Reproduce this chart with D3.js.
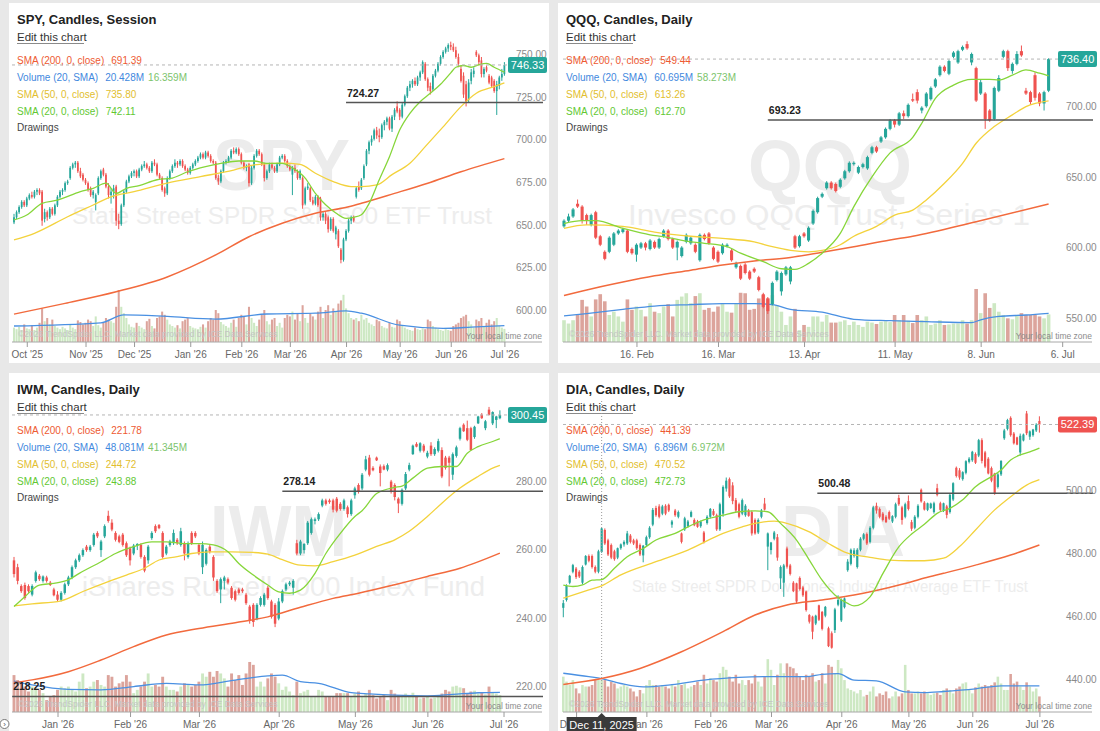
<!DOCTYPE html>
<html lang="en">
<head>
<meta charset="UTF-8">
<title>SPY, QQQ, IWM, DIA - Candles</title>
<script src="https://d3js.org/d3.v7.min.js"></script>
<style>
  body { margin: 0; background: #e8e8e8; font-family: "Liberation Sans", Arial, sans-serif; }
  svg { display: block; font-family: "Liberation Sans", Arial, sans-serif; }
</style>
</head>
<body>
<svg width="1100" height="731"></svg>
<script>
// ---------- data: shared labels ----------
const legendLabels = ["SMA (200, 0, close)", "Volume (20, SMA)", "SMA (50, 0, close)", "SMA (20, 0, close)", "Drawings"];

// ---------- SPY ----------
const spyTitle = "SPY, Candles, Session";
const spyMark = "SPY";
const spyName = "State Street SPDR S&P 500 ETF Trust";
const spyLegend = ["691.39", "20.428M", "16.359M", "735.80", "742.11"];
const spyTicks = ["Oct '25", "Nov '25", "Dec '25", "Jan '26", "Feb '26", "Mar '26", "Apr '26", "May '26", "Jun '26", "Jul '26"];
const spyTickIdx = [5, 28, 47, 69, 89, 108, 130, 151, 171, 192];
const spyYTicks = [600, 625, 650, 675, 700, 725, 750];
const spyLevels = [[724.27, 130]];
// [open, high, low, close]
const spyCandles = [
  [654,659,653,657],[657,661,656,660],[660,664,659,663],[663,667,662,666],[666,667,663,664],[664,669,663,668],[668,671,667,670],[670,672,668,669],[669,673,668,672],[672,674,670,673],
  [673,674,670,671],[672,673,652,655],[656,662,654,660],[660,661,655,657],[657,663,656,662],[662,663,658,659],[659,665,658,664],[664,670,663,669],[669,673,668,672],[672,674,670,673],
  [673,678,672,677],[677,679,676,678],[680,687,679,686],[686,689,685,688],[688,690,686,689],[689,690,683,684],[684,686,680,681],[682,683,678,679],[679,680,676,677],[677,678,672,673],
  [674,675,669,670],[670,673,668,672],[666,671,661,670],[671,681,670,680],[680,685,679,684],[685,686,681,682],[682,683,674,675],[675,677,668,670],[670,674,665,672],[672,676,668,674],
  [675,676,652,655],[655,659,650,653],[653,665,652,664],[664,673,663,672],[672,679,671,678],[678,682,677,681],[681,684,680,683],[683,685,681,684],[684,685,680,681],[681,686,680,685],
  [685,688,684,687],[687,690,686,688],[688,689,685,686],[686,687,683,684],[684,690,683,689],[689,691,687,688],[688,689,681,682],[682,683,679,680],[680,681,672,673],[674,675,669,671],
  [671,681,670,680],[680,685,679,684],[684,688,683,687],[687,691,686,689],[689,690,686,688],[688,691,687,690],[690,691,686,687],[687,688,684,685],[685,686,682,683],[683,687,682,686],
  [686,689,685,688],[688,691,687,690],[690,693,689,692],[692,695,691,694],[694,695,691,692],[692,696,691,695],[695,696,692,693],[693,694,689,690],[690,691,688,689],[689,690,679,680],
  [680,682,676,678],[678,685,677,684],[684,690,683,689],[689,691,688,690],[690,693,689,692],[692,697,691,696],[696,698,694,695],[695,698,694,697],[697,698,693,694],[694,695,688,689],
  [689,690,685,686],[686,688,684,687],[688,689,675,677],[677,687,676,686],[686,694,685,693],[693,697,692,696],[696,697,693,694],[694,695,687,688],[688,689,678,680],[680,685,679,684],
  [684,689,683,688],[688,689,685,686],[686,687,683,684],[684,689,683,688],[688,693,687,692],[692,694,691,693],[693,694,689,690],[690,691,686,687],[687,688,684,685],[682,687,670,686],
  [686,688,683,684],[684,685,679,680],[680,685,679,684],[680,681,662,664],[665,675,664,674],[674,677,673,675],[674,675,666,667],[667,669,664,665],[665,670,664,669],[669,670,663,664],
  [668,669,655,657],[657,660,655,659],[659,660,653,655],[657,658,648,650],[650,657,649,656],[656,657,648,649],[647,652,644,651],[649,650,639,640],[638,639,630,632],[632,645,631,644],
  [644,650,643,649],[649,656,648,655],[655,658,653,657],[657,658,654,655],[669,675,668,674],[675,678,672,673],[674,680,673,679],[680,688,679,687],[688,697,687,696],[696,702,694,701],
  [701,705,699,703],[703,709,702,708],[708,710,703,705],[705,709,701,704],[704,712,703,711],[711,714,708,713],[713,716,711,715],[715,716,708,709],[709,717,707,716],[716,721,714,720],
  [722,725,718,719],[720,721,714,716],[716,724,715,723],[723,729,722,728],[728,734,727,733],[733,737,731,735],[735,738,733,737],[737,739,734,735],[735,740,734,739],[739,743,737,742],
  [742,749,741,748],[747,748,737,738],[738,739,731,733],[734,736,729,731],[732,741,731,740],[740,744,739,743],[743,748,742,747],[747,752,746,751],[751,755,750,754],[754,757,753,756],
  [756,759,754,758],[758,760,755,757],[757,759,754,755],[755,757,750,751],[751,753,745,747],[744,746,736,737],[740,742,727,729],[735,737,722,725],[726,738,724,736],[737,744,735,742],
  [741,745,739,743],[754,755,751,752],[752,753,746,748],[749,751,739,741],[741,745,739,744],[745,746,742,743],[740,741,735,736],[739,740,733,734],[737,738,730,731],[731,737,717,735],
  [734,740,732,739],[739,744,737,741],[741,748,740,746.33]
];
// volume, millions
const spyVolume = [
  18,16,19,15,22,17,16,21,15,18,24, 42, 26,30,22,28,20,18,16,19,17,
  15,22,18,16,27,25,22,24,28,26, 20,32,21,18,24,30,28,26,24,44,65,
  44,36,30,22,19,18,24,20,18, 16,26,29,20,17,30,32,38,34,28,
  22,20,18,21,17,26,28,30,20,18, 17,16,19,22,18,26,30,28,40,36,
  25,22,20,18,24,28,19,30,34,32, 22,44,30,24,20,28,34,40,26,22,
  28,30,20,24,18,30,34,32,38,28, 36,26,46,30,24,36,32,28,38,44,
  30,40,46,34,42,38,48,52,59,42,36,30,28,
  30,26,34,28,30,24,22,20,28,26,20,18,17,24,19,18,28,
  26,20,18,16,15,14,18,16,15,17,16,28,26,20,18,16,15,14,16,15,
  14,20,22,24,30,32,34,26,22,18,28,26,30,20,24,28,22,26,30,20,18,16.4
];
// [candle index, value]
const spySma20 = [[0,655.4],[5,658.3],[11,665.2],[17,667],[26,672],[31,674],[36,677],[40,671],[44,674],[49,675.6],[56,679],[62,680],[68,683.7],[75,686.7],[81,688.6],[88,690],[94,690],[99,688.6],[105,688.6],[109,686],[114,680],[118,671],[122,664.3],[126,659.5],[130,656.4],[133,657],[136,658.5],[139,665],[143,679],[147,692.5],[151,708.2],[155,718],[159,724.8],[163,729.7],[167,735],[171,741.7],[173,745],[176,746],[179,745],[182,746.5],[185,747.3],[188,745],[192,742.1]];
const spySma50 = [[0,643.7],[8,647.6],[21,657.3],[31,664.2],[38,669],[47,672],[60,677],[73,680.8],[86,684.7],[94,687.7],[105,688.7],[112,688],[118,682.8],[125,677.9],[132,675],[136,675],[142,676],[148,682],[155,688.7],[161,698.4],[168,710],[175,721.9],[181,729.7],[188,733.6],[192,735.8]];
const spySma200 = [[0,600.2],[20,606.5],[40,613.3],[60,622],[79,634.9],[92,645.6],[105,653.5],[118,659.3],[131,663.2],[136,665.2],[149,671],[162,677],[175,683.7],[192,691.4]];
const spyVolSma = [[0,20],[34,24],[43,34],[60,32],[79,28.7],[99,35],[118,36],[130,39],[136,36],[151,21],[168,17],[181,19],[192,20.4]];

// ---------- QQQ ----------
const qqqTitle = "QQQ, Candles, Daily";
const qqqMark = "QQQ";
const qqqName = "Invesco QQQ Trust, Series 1";
const qqqLegend = ["549.44", "60.695M", "58.273M", "613.26", "612.70"];
const qqqTicks = ["16. Feb", "16. Mar", "13. Apr", "11. May", "8. Jun", "6. Jul"];
const qqqTickIdx = [16, 34, 53, 73, 92, 110];
const qqqYTicks = [550, 600, 650, 700];
const qqqLevels = [[693.23, 45]];
const qqqCandles = [
  [618,623,617,622],[622,627,621,625],[625,631,624,630],[634,637,631,632],[632,633,620,622],[626,627,619,622],[619,627,618,626],[628,629,609,610],[611,612,604,605],[600,601,594,595],
  [600,611,599,610],[605,614,604,613],[613,616,612,615],[614,617,613,616],[615,616,599,600],[602,603,598,599],[598,606,593,605],[603,607,602,606],[606,607,601,603],[602,609,601,608],
  [607,608,602,603],[603,610,602,609],[611,616,610,615],[615,616,608,609],[609,610,602,603],[603,608,594,607],[597,604,596,603],[607,613,606,612],[606,611,605,610],[605,606,599,600],
  [594,613,593,612],[612,613,608,609],[613,614,605,606],[603,604,594,595],[600,601,592,593],[599,606,598,605],[604,606,603,605],[601,602,593,594],[589,593,588,592],[590,591,580,581],
  [591,592,584,585],[586,587,580,581],[588,589,585,586],[582,583,572,573],[570,571,560,561],[567,568,556,558],[563,579,562,578],[580,587,579,586],[572,586,569,585],[584,590,583,589],
  [579,590,577,589],[611,612,602,603],[604,612,603,611],[613,614,610,611],[608,618,607,617],[620,630,619,629],[628,639,627,638],[639,642,638,641],[645,650,644,649],[649,650,644,645],
  [648,649,642,643],[646,652,645,651],[652,658,651,657],[657,664,656,663],[662,664,661,663],[656,661,655,660],[660,663,659,662],[659,668,658,667],[670,675,669,674],[674,675,670,671],
  [678,682,677,681],[681,688,680,687],[687,694,686,693],[693,694,688,690],[690,699,689,698],[698,700,694,696],[696,705,695,704],[708,712,706,707],[713,715,705,707],[700,703,698,702],
  [703,713,702,712],[708,717,707,716],[717,723,716,722],[725,732,724,731],[731,732,727,728],[726,736,725,735],[738,742,737,741],[734,743,733,742],[743,746,742,745],[747,749,743,744],
  [734,741,732,740],[730,731,706,707],[712,722,711,720],[712,713,687,694],[700,701,692,693],[694,717,693,716],[714,725,713,723],[738,743,737,742],[742,743,728,730],[728,734,726,733],
  [733,742,732,740],[742,746,738,739],[714,716,711,712],[713,714,704,706],[725,727,707,709],[712,713,703,705],[705,714,700,713],[714,737,713,736.4]
];
const qqqVolume = [
  46,39,46,57,89,75,54,90,101,86, 57,64,54,43,90,68,75,68,54,82,
  64,61,75,80,54,89,96,103,82,97, 103,68,72,64,75,82,64,62,82,104,
  103,68,70,92,99,92,99,78,64,36, 54,70,25,36,32,54,54,43,57,41,
  41,43,46,36,43,36,32,43,41,38, 43,44,42,57,46,57,45,40,57,46,
  54,36,39,46,36,37,39,39,46,39, 46,112,61,103,72,82,64,57,50,48,
  55,61,57,57,57,54,50,58.3
];
const qqqSma20 = [[0,620],[4,622],[7,622],[13,616.6],[19,612],[22,610.7],[28,607],[31,606],[36,603.6],[39,599],[44,593],[48,588],[51,587.5],[54,591.8],[57,599],[61,613],[64,632],[68,653],[72,670],[77,681],[79,691],[82,708.6],[86,718],[90,722],[94,722],[96,721.6],[99,725],[102,728.7],[105,726.4],[107,724.5]];
const qqqSma50 = [[0,616.6],[5,619],[13,618],[20,614],[28,611],[35,609.5],[42,607],[46,603.6],[50,601],[54,600],[57,601],[61,605],[64,611],[69,618],[73,626],[77,629.5],[80,636.7],[84,648.5],[88,662.6],[91,676.8],[95,688.6],[99,696.9],[102,702.8],[107,706.8]];
const qqqSma200 = [[0,569],[5,573],[13,578.6],[20,583],[28,587],[35,590.6],[42,593.5],[50,596],[57,599.7],[64,603.6],[72,608.4],[77,611],[91,621.3],[107,633.8]];
const qqqVolSma = [[0,55],[5,60],[13,69],[20,76],[28,79],[35,81],[42,81],[46,79],[50,69],[57,63],[64,48],[72,45],[80,43],[90,41],[92,47],[96,54],[102,57],[107,60.7]];

// ---------- IWM ----------
const iwmTitle = "IWM, Candles, Daily";
const iwmMark = "IWM";
const iwmName = "iShares Russell 2000 Index Fund";
const iwmLegend = ["221.78", "48.081M", "41.345M", "244.72", "243.88"];
const iwmTicks = ["Jan '26", "Feb '26", "Mar '26", "Apr '26", "May '26", "Jun '26", "Jul '26"];
const iwmTickIdx = [12, 32, 51, 73, 94, 114, 135];
const iwmYTicks = [220, 240, 260, 280];
const iwmLevels = [[278.14, 74], [218.25, -0.5]];
const iwmCandles = [
  [258,259,253,254],[256,257,251,252],[250.5,251,248.5,249],[250.8,251.5,246.5,247],[250.5,251,248.5,249],[248,251,247.5,250.5],[252,255,251.5,254.5],[253.5,254,252,252.5],[252,253.6,251.5,253.3],[253,253.5,251.5,252],
  [251.5,252,250.5,250.8],[249.5,250,247.5,247.8],[248,249,246,246.5],[246.5,249,246,248.5],[248.5,251.5,248,251],[251,253.5,250.5,253],[253,256.5,252.5,256],[256,258.5,255.5,258],[258,260,257.5,259.5],[259.5,261.5,259,261],
  [262,262.5,260.5,261],[261,262.5,260.5,262],[262.5,266,262,265.5],[266,266.5,264.5,265],[261,264,259,263.5],[265,268.5,264.5,268],[271,272.5,269,269.5],[269,270,266.5,267],[266,266.5,263.5,264],[265,265.5,263,263.4],
  [265.5,266,262,262.5],[263,263.5,259,259.5],[261.5,262,256.5,258],[260,262.8,259.5,262.3],[262.3,263,261,262.8],[262.5,263,258.5,259],[259,259.5,254.5,255],[258,262.5,257,262],[264.5,266.5,264,266],[268,268.5,266,266.5],
  [268.3,268.6,267.1,267.4],[266,266.5,258.5,259],[260,262.5,259.5,262],[262.5,264,262,263.5],[263,267,262.5,266],[264,264.5,262.5,263],[262.5,267.5,262,266.5],[263,263.5,258,260],[259,263.5,258.5,263],[266,266.5,262.5,263],
  [266,266.5,264.5,265],[262.5,263,259.5,260],[256,263.5,254,262.5],[257,261.5,256.5,261],[262,262.5,260,260.5],[259,259.5,252,253],[252,252.5,248.5,249],[249.5,253,245.5,252.5],[252,253.5,249.5,253],[252.5,253,251,251.5],
  [250,250.5,246.5,247],[249,249.5,246,246.5],[249.5,250,248,248.5],[249.5,250,248.5,249],[248,248.5,245,245.5],[244.5,245,239.5,240.5],[245,245.5,238.6,240],[241,245.5,240.5,245],[245,247.5,244.5,247],[245,248.5,244.5,248],
  [250,250.5,246.5,247],[246,246.5,241,241.5],[245,245.5,238.5,239.5],[241,247,240.5,246],[246,249.5,245.5,249],[249.5,251.5,249,251],[251,252,250.5,251.5],[250,252.5,248,252],[263,264,259.5,260],[260,264,259.5,263.5],
  [261,263,260,262.8],[263,269.5,262.5,269],[266,270.5,265.5,270],[269.5,270.5,268.5,270],[270,272,269.5,271.5],[274,276,273.5,275.5],[275.5,276,274,274.5],[275.5,276,274.5,275],[275.5,276,272,272.8],[276,276.5,272,272.5],
  [274.5,275,272.5,273],[273,276,272.5,275.5],[273.5,274,270.5,271.5],[271.5,276,271,275.5],[277,279.5,276,279],[280,280.5,277.5,278],[279,283.5,278.5,283],[284.5,288.5,284,287.5],[288,288.8,282.5,283],[285,285.5,284,284.3],
  [288,288.3,287,287.2],[285.4,286,279.6,283.5],[285.5,286,284.3,284.5],[284.5,286.3,284,285.8],[281,281.5,277.5,278],[280,280.5,275.5,276.5],[276,276.4,271.8,274.6],[274.5,279,274,278.6],[279,283.8,278.5,283.2],[284.5,286.5,284,285.8],
  [289,291.8,288.8,291.5],[292,292.5,291,291.2],[290,292.5,289.5,292.2],[291.5,292,289.5,290],[288.3,290,287.8,289.4],[291.5,292.5,288.5,289],[289,291,288.5,290.5],[290,293.5,289.5,292.8],[290.2,291,282,282.5],[288,288.5,284.5,285],
  [288,288.5,279.6,286.5],[283,289.5,281.5,289],[288.5,291.5,288,291],[293.5,297,293,296.6],[297.6,298,295.5,295.7],[296.6,298.8,292.8,293.2],[296.6,297,290,290.2],[294,297.3,293.5,297],[298,300.2,297.8,300],[300.5,301,299.3,299.5],
  [296.6,299,296,298.6],[302,302.8,300.3,300.5],[298,301.5,297.5,301.3],[299,300.2,296.6,300],[299.5,301.8,299.2,300.45]
];
const iwmVolume = [
  90,78,74,62,50,62, 58,54,46,29,37,41,54, 62,58,62,54,50,74,94,58,
  62,74,78,66,62,90,86,62,70,74, 90,74,46,54,62,74,94,62,66,62,
  86,62,54,54,50,62,70,66,62,66, 74,94,86,98,86,100,94,82,62,94,
  78,90,66,94,122,115,62,74,62,82, 94,86,70,54,62,50,41,74,46,50,
  54,37,37,54,50,37,37,37,46,46,46,46,37,
  45,50,37,45,54,41,33,37,41,29, 54,45,41,37,45,41,47,37,33,35,
  37,33,35,39,45,54,50,62,64,60, 58,45,50,52,45,47,43,62,47,45,41.3
];
const iwmSma20 = [[0,244.5],[3,247.4],[7,250.8],[11,251.3],[15,252.3],[18,254.2],[24,257.6],[28,260],[33,262],[38,263.4],[42,263.4],[47,262.9],[51,262.9],[55,262.5],[59,260.5],[62,257.1],[66,253.7],[70,250.8],[73,248.8],[76,248.4],[79,249.3],[83,254.2],[86,260],[90,265.9],[94,270.8],[96,272.5],[100,277.5],[105,279.3],[107,279.7],[110,282],[114,284.9],[118,285.4],[122,285.4],[125,289.3],[128,291.2],[132,292.7],[134,293.5]];
const iwmSma50 = [[0,244.7],[5,245.3],[13,246.2],[19,248.9],[26,251.8],[31,253.7],[36,255.7],[40,258.1],[45,259.1],[49,260],[54,260.5],[60,260.5],[66,260.3],[70,259.8],[74,258.2],[79,256.6],[83,256.4],[88,257.6],[94,259.5],[96,260.3],[100,262.1],[105,264],[109,266.5],[114,270.8],[118,274.7],[123,279.1],[128,282.5],[132,284.9],[134,285.7]];
const iwmSma200 = [[0,222.3],[5,223.1],[15,225.5],[24,228.9],[33,232.8],[42,236.2],[51,238.1],[61,239.8],[70,241.5],[79,244.3],[88,246.9],[95,248.4],[105,250.9],[114,253.3],[123,255.7],[134,260.1]];
const iwmVolSma = [[0,75.6],[5,66],[15,55],[24,54],[33,62],[42,70],[51,66],[61,78],[70,88],[74,89.7],[79,74],[84,70],[93,47],[98,44],[105,41],[114,39.5],[121,43],[128,47],[134,48.1]];

// ---------- DIA ----------
const diaTitle = "DIA, Candles, Daily";
const diaMark = "DIA";
const diaName = "State Street SPDR Dow Jones Industrial Average ETF Trust";
const diaLegend = ["441.39", "6.896M", "6.972M", "470.52", "472.73"];
const diaTicks = ["Dec '25", "Jan '26", "Feb '26", "Mar '26", "Apr '26", "May '26", "Jun '26", "Jul '26"];
const diaTickIdx = [4, 26, 46, 65, 87, 108, 128, 149];
const diaYTicks = [440, 460, 480, 500];
const diaLevels = [[500.48, 79.5]];
const diaCrosshair = [12, "Dec 11, 2025"];
const diaCandles = [
  [464,466.5,461,465.5],[466.5,471.5,466,471],[472,474.5,471.5,474.2],[475.5,478,475,477.6],[476.5,477,473.2,473.8],[475.5,476,473.5,474],[472,477.5,471.5,477],[477.8,480.8,477.5,480.5],[480.5,481,478.5,479],[480.5,481,476.5,477],
  [477,477.5,475,475.5],[475.5,482.5,475,482],[481.8,489.5,481.5,489.3],[488.8,489.3,484,484.5],[485.5,486,480.5,481],[484,484.5,479.5,480],[482,482.5,479,479.5],[480,483.2,479.5,483],[483,484.5,482.5,484.2],[484.2,485.5,483.5,485],
  [484.5,488.5,484,487.7],[487,487.5,484.5,485],[485.5,486,484,484.5],[485.5,486,482.5,483],[484,484.5,480.5,481],[480.7,484,478.5,483.8],[484,487,483.5,486.5],[486.5,490,486,489.5],[490.5,495.8,490,495.2],[495.8,496.5,493,493.5],
  [496.3,497,492.5,493],[494,496.8,493.5,496.3],[496.5,497,493.5,494],[496.8,497.2,494.5,495],[490.5,492,489.5,491.5],[495,495.5,493,493.5],[493,495,492.5,494.5],[487.7,488,484.5,485],[489,493,488.5,492.5],[490,492,489.5,491.5],
  [493,495,492.8,494.5],[492,492.5,490,490.3],[491.5,492,489.5,489.8],[490,491.8,489.5,491.5],[488,488.5,484.5,485],[491,493.5,490.5,493],[493,495.8,492.5,495.5],[494.8,495.5,493.3,493.6],[493.5,494,488.5,489],[489,497.5,488.5,497],
  [494,503,493,502.5],[502,505.5,501,504.5],[505,505.5,499,499.5],[503,504,497,498],[498.3,499,494.5,495],[497,497.5,492.5,493],[494,498.8,493.5,498.3],[493.5,497,493,496.5],[495,495.5,493,493.3],[494.5,495,487,487.7],
  [492,492.5,487.3,487.7],[488,492.5,487.5,492],[493,495.5,492.5,495],[497.2,499,495,495.3],[483.5,488,476,487.7],[482.4,485,481,484.8],[486,488.5,485.5,488],[486.5,487.5,479,480],[473.4,477.5,470,477],[472,478,467.5,477.5],
  [482.9,483.5,476.5,477.1],[477.5,478,474.3,474.8],[472,472.5,469,469.3],[471.8,472,465.5,466],[473.5,474,469.5,470],[470.5,471,467.5,468],[469.2,469.5,462.8,463.3],[461.7,462,459,459.6],[461.2,461.5,454,456.4],[459,461.8,458.5,461.5],
  [464.8,465,459.8,460.2],[462.7,463,456.8,457.3],[461.5,464.6,461,464.3],[457.5,458,451.5,451.8],[455.9,456.5,451,451.3],[456.9,464,456,463.5],[465,468,464.5,466.5],[460,467,459.5,466.5],[464.2,467.3,463.8,467],[476,479.5,475.5,478.7],
  [478,482.9,477.5,482.5],[480.5,483,480,482.3],[477,483,476.5,482.5],[482.5,486.5,482,486],[486,487.8,485.5,487.4],[487.5,488,484,484.5],[485,490,484.5,489.5],[489.5,496.5,489,496],[496.5,497.5,494,495],[495.5,496,492.5,493],
  [494,494.5,491.5,492],[493,493.5,491,491.3],[494.5,495,492,492.4],[491.5,493.5,491,493.2],[493,497.5,492.5,497],[499,500,496.5,497],[496,496.5,490.5,492],[493,497.5,492.5,497],[498,499.8,495,495.5],[491.3,492,488.5,489.2],
  [489.5,493.5,489,493],[493,497,492.5,496.5],[501.6,502,497.5,497.9],[497.5,498,495,495.3],[495.2,497.5,494.8,497.3],[495.8,497.5,495.5,497.2],[494.5,497.8,494,497.3],[502.1,503.5,499.5,500],[497.3,497.8,494.8,495.2],[495,497.5,494.5,497.3],
  [496.3,496.8,492.5,493.6],[494.5,500.5,494,500],[498.5,504,498,503.7],[508.6,509,505.5,506],[507.8,508.5,504.8,505.5],[505,507.5,504.5,507.2],[507,511,506.5,510.7],[510.5,512,510,511.5],[511,514,510.5,513.7],[513,513.5,509.8,510.2],
  [512.5,517.8,512,517.4],[517.4,518,510,510.8],[513.5,514,508.5,509],[511.5,512,506.5,506.8],[508.5,509,504,504.5],[506.8,507,500,500.5],[502.5,507,502,506.5],[506.5,511,506,510.8],[518,521,517.5,520.5],[521,524.2,520.5,523.8],
  [524.5,525,518.5,519],[519.5,520,516,516.4],[518.3,518.5,515.8,516],[513.5,519.5,512.5,518.8],[517.3,519.5,517,519.2],[525.9,526.7,519,519.6],[518.5,520.5,517.5,520.2],[519,521,518.5,520.8],[520.5,522.8,520,522.3],[523.5,525,519.8,522.39]
];
const diaVolume = [
  9.3,8.0,7.1,8.4,6.2,4.9,7.1,6.7,6.7,7.1,8.4, 8.4,8.4,8.4,6.7,8.0,7.5,6.2,6.7,7.1,6.7,
  6.2,5.4,4.1,5.8,4.9,7.1,8.4,7.1,7.1,6.7, 7.1,6.7,6.2,7.1,6.7,8.4,7.1,7.5,6.2,6.7,
  7.1,8.0,7.1,9.8,7.5,8.9,8.4,8.0,10.2,11.9, 11.1,9.3,8.0,9.8,7.5,8.4,7.1,8.4,7.5,9.8,
  8.0,6.7,9.3,13.9,11.1,7.1,9.8,12.8,10.2,12.8, 11.9,11.5,10.2,9.3,8.4,9.8,9.3,10.2,8.0,8.4,
  10.2,7.5,12.4,11.9,10.2,13.7,11.5,8.4,6.2,5.8, 5.4,4.9,5.8,4.1,4.5,5.4,6.7,4.1,4.9,4.5,
  5.4,3.6,4.1,5.4,4.1,4.9,12.4,5.8,4.9,4.9,5.4,4.9,5.4,
  4.9,4.5,4.9,5.1,4.5,5.8,6.2,5.8,4.9,6.2,6.7,7.5,7.8,5.8,4.9,6.5,7.5,6.7,
  7.1,6.7,7.1,7.8,9.3,7.5,5.8,5.8,10.0,7.5,8.0,6.7,5.8,7.8,6.7,5.4,6.2,4.1
];
const diaSma20 = [[0,471.2],[3,470.8],[6,471.3],[9,472.8],[12,473],[16,476.6],[20,480.3],[25,482.9],[29,485.6],[35,487.7],[39,489.8],[44,492],[50,493.5],[55,494.6],[60,494.9],[64,494.6],[68,490.9],[73,485.6],[77,479.2],[81,472.8],[85,468.1],[89,465.4],[91,464.6],[96,467.5],[100,474.9],[105,483.4],[109,487.5],[113,490.6],[117,494.1],[121,495.7],[125,498.4],[129,502.6],[134,505.8],[137,507.9],[140,511.1],[143,512.7],[146,513.7],[149,514.9]];
const diaSma50 = [[0,467.1],[8,469.7],[12,471],[18,474.5],[29,478.7],[39,482.4],[50,487.7],[56,489.8],[60,490.9],[66,491.6],[70,490.9],[77,488.2],[83,484.5],[89,481.4],[96,480.1],[102,479.2],[108,479],[113,479],[119,479.8],[124,483.5],[129,488.8],[135,495.2],[140,499.4],[145,503.1],[149,504.8]];
const diaSma200 = [[0,439.6],[12,441.5],[24,444.7],[37,450],[50,456.4],[60,461.7],[70,464.9],[81,466.5],[91,468.1],[102,470.5],[109,472.3],[113,473.5],[119,475],[129,477.6],[140,480.8],[149,484]];
const diaVolSma = [[0,10.2],[8,9.3],[12,8.8],[18,7.5],[25,6.6],[34,7.2],[44,8.4],[55,9.1],[65,9.3],[76,9.3],[81,9.9],[86,10.1],[91,8.4],[98,8.2],[107,5.3],[113,5.1],[119,5.4],[129,6.1],[137,6.9],[149,6.9]];

// ---------- layout ----------
const GREEN = "#26a69a", RED = "#ef5350";
const svg = d3.select("svg");
svg.append("rect").attr("width", 1100).attr("height", 731).attr("fill", "#e8e8e8");

const panels = [
  { title: spyTitle, legend: spyLegend, candles: spyCandles, volume: spyVolume, sma20: spySma20, sma50: spySma50, sma200: spySma200, volSma: spyVolSma,
    ticks: spyTicks, tickIdx: spyTickIdx, yTicks: spyYTicks, levels: spyLevels, mark: spyMark, name: spyName,
    box: [9, 3, 540, 360], dy: 0, left: 12, right: 542, xFirst: 14, xLast: 504.4,
    yDomain: [600, 750], yRange: [314.45, 58.7], volMax: 60, volTop: 294, axisY: 342,
    markX: 281.5, markY: 190, markLen: 137, nameY: 224, nameSize: 23, nameLen: 420, nameX: 282 },
  { title: qqqTitle, legend: qqqLegend, candles: qqqCandles, volume: qqqVolume, sma20: qqqSma20, sma50: qqqSma50, sma200: qqqSma200, volSma: qqqVolSma,
    ticks: qqqTicks, tickIdx: qqqTickIdx, yTicks: qqqYTicks, levels: qqqLevels, mark: qqqMark, name: qqqName,
    box: [558, 3, 542, 360], dy: 0, left: 563, right: 1092, xFirst: 564, xLast: 1048.6,
    yDomain: [550, 700], yRange: [322.45, 110.5], volMax: 120, volTop: 285.2, axisY: 342,
    markX: 830, markY: 191, markLen: 164, nameY: 225, nameSize: 29, nameLen: 402, nameX: 829 },
  { title: iwmTitle, legend: iwmLegend, candles: iwmCandles, volume: iwmVolume, sma20: iwmSma20, sma50: iwmSma50, sma200: iwmSma200, volSma: iwmVolSma,
    ticks: iwmTicks, tickIdx: iwmTickIdx, yTicks: iwmYTicks, levels: iwmLevels, mark: iwmMark, name: iwmName,
    box: [9, 373, 540, 358], dy: 370, left: 12, right: 542, xFirst: 14, xLast: 499.9,
    yDomain: [220, 280], yRange: [690.5, 485], volMax: 130, volTop: 658.7, axisY: 712,
    markX: 278.5, markY: 556, markLen: 137, nameY: 596, nameSize: 28, nameLen: 403, nameX: 283.5 },
  { title: diaTitle, legend: diaLegend, candles: diaCandles, volume: diaVolume, sma20: diaSma20, sma50: diaSma50, sma200: diaSma200, volSma: diaVolSma,
    ticks: diaTicks, tickIdx: diaTickIdx, yTicks: diaYTicks, levels: diaLevels, mark: diaMark, name: diaName,
    box: [558, 373, 542, 358], dy: 370, left: 563, right: 1092, xFirst: 563.3, xLast: 1039.4,
    yDomain: [440, 500], yRange: [683.2, 494.8], volMax: 14, volTop: 658.8, axisY: 712,
    markX: 843, markY: 556, markLen: 124, nameY: 592, nameSize: 17, nameLen: 396, nameX: 830, crosshair: diaCrosshair }
];

panels.forEach(drawPanel);

function drawPanel(p) {
  const [bx, by, bw, bh] = p.box;
  const g = svg.append("g");
  g.append("rect").attr("x", bx).attr("y", by).attr("width", bw).attr("height", bh).attr("fill", "#fff");

  const n = p.candles.length;
  const x = d3.scaleLinear().domain([0, n - 1]).range([p.xFirst, p.xLast]);
  const step = x(1) - x(0);
  const y = d3.scaleLinear().domain(p.yDomain).range(p.yRange);
  const v = d3.scaleLinear().domain([0, p.volMax]).range([p.axisY, p.volTop]);
  const up = d => d[3] >= d[0];

  // watermark
  g.append("text").attr("x", p.markX - p.markLen / 2).attr("y", p.markY)
    .attr("font-size", 72).attr("font-weight", "bold").attr("fill", "#ececec")
    .attr("textLength", p.markLen).attr("lengthAdjust", "spacingAndGlyphs").text(p.mark);
  g.append("text").attr("x", p.nameX - p.nameLen / 2).attr("y", p.nameY)
    .attr("font-size", p.nameSize).attr("fill", "#ededed")
    .attr("textLength", p.nameLen).attr("lengthAdjust", "spacingAndGlyphs").text(p.name);

  // volume
  const barW = Math.max(1.2, step * 0.8);
  g.append("g").selectAll("rect").data(p.volume).join("rect")
    .attr("x", (d, i) => x(i) - barW / 2).attr("width", barW)
    .attr("y", d => v(d)).attr("height", d => p.axisY - v(d))
    .attr("fill", (d, i) => up(p.candles[i]) ? "#cde8c3" : "#dca49c");

  const vline = d3.line().x(d => x(d[0])).y(d => v(d[1])).curve(d3.curveMonotoneX);
  g.append("path").attr("d", vline(p.volSma)).attr("fill", "none").attr("stroke", "#4a90e2").attr("stroke-width", 1.3);

  // copyright & time zone
  g.append("text").attr("x", p.left + 6).attr("y", p.axisY - 5).attr("font-size", 8.5).attr("fill", "#c4c4c4")
    .text("\u00a92026 TrendSpider LLC. Market data provided by ICE Data Services");
  g.append("text").attr("x", p.right).attr("y", p.axisY - 3).attr("text-anchor", "end").attr("font-size", 8.5).attr("fill", "#8c8c8c")
    .text("Your local time zone");

  // candles
  const bodyW = Math.max(1.5, step * 0.68);
  const cg = g.append("g").selectAll("g").data(p.candles).join("g");
  cg.append("line").attr("x1", (d, i) => x(i)).attr("x2", (d, i) => x(i))
    .attr("y1", d => y(d[1])).attr("y2", d => y(d[2]))
    .attr("stroke", d => up(d) ? GREEN : RED).attr("stroke-width", 1);
  cg.append("rect").attr("x", (d, i) => x(i) - bodyW / 2).attr("width", bodyW)
    .attr("y", d => y(Math.max(d[0], d[3])))
    .attr("height", d => Math.max(1, Math.abs(y(d[0]) - y(d[3]))))
    .attr("fill", d => up(d) ? GREEN : RED);

  // moving averages
  const line = d3.line().x(d => x(d[0])).y(d => y(d[1])).curve(d3.curveMonotoneX);
  [[p.sma200, "#f26a3d", 1.5], [p.sma50, "#f3d23c", 1.3], [p.sma20, "#86d63a", 1.3]].forEach(([s, c, w]) => {
    g.append("path").attr("d", line(s)).attr("fill", "none").attr("stroke", c).attr("stroke-width", w);
  });

  // horizontal drawings
  p.levels.forEach(([lv, from]) => {
    const ly = y(lv);
    g.append("line").attr("x1", x(from)).attr("x2", p.right + 1).attr("y1", ly).attr("y2", ly)
      .attr("stroke", "#555").attr("stroke-width", 1.5);
    g.append("text").attr("x", x(from) + 1).attr("y", ly - 6).attr("font-size", 10.5).attr("font-weight", "bold")
      .attr("fill", "#222").text(d3.format(".2f")(lv));
  });

  // y axis labels
  const ya = g.append("g").attr("transform", `translate(${p.right - 26},0)`)
    .call(d3.axisRight(y).tickValues(p.yTicks).tickFormat(d3.format(".2f")).tickSize(0).tickPadding(0));
  ya.select(".domain").remove();
  ya.selectAll("text").attr("fill", "#8a8a8a").attr("font-size", 10).attr("dy", "-0.1em")
    .attr("font-family", "Liberation Sans, Arial, sans-serif");

  // x axis
  g.append("line").attr("x1", p.left).attr("x2", p.right).attr("y1", p.axisY).attr("y2", p.axisY)
    .attr("stroke", "#a8a8a8");
  const xa = g.append("g").attr("transform", `translate(0,${p.axisY})`)
    .call(d3.axisBottom(x).tickValues(p.tickIdx).tickFormat((d, i) => p.ticks[i]).tickSize(5).tickPadding(4));
  xa.select(".domain").remove();
  xa.selectAll("line").attr("stroke", "#9a9a9a");
  xa.selectAll("text").attr("fill", "#666").attr("font-size", 10).attr("font-family", "Liberation Sans, Arial, sans-serif");

  // last price line and label
  const last = p.candles[n - 1];
  const py = y(last[3]);
  g.append("line").attr("x1", p.left).attr("x2", p.right - 34).attr("y1", py).attr("y2", py)
    .attr("stroke", "#b5b5b5").attr("stroke-dasharray", "3,3");
  g.append("rect").attr("x", p.right - 34).attr("y", py - 8).attr("width", 39).attr("height", 16).attr("rx", 2)
    .attr("fill", up(last) ? GREEN : RED);
  g.append("text").attr("x", p.right - 14.5).attr("y", py + 4).attr("text-anchor", "middle")
    .attr("font-size", 11).attr("fill", "#fff").text(d3.format(".2f")(last[3]));

  // header and legend
  const tx = bx + 8, t0 = p.dy;
  g.append("text").attr("x", tx).attr("y", 24 + t0).attr("font-size", 13).attr("font-weight", "bold")
    .attr("fill", "#222").text(p.title);
  g.append("text").attr("x", tx).attr("y", 40.5 + t0).attr("font-size", 11.5).attr("fill", "#333").text("Edit this chart");
  g.append("line").attr("x1", tx).attr("x2", tx + 67).attr("y1", 43.5 + t0).attr("y2", 43.5 + t0).attr("stroke", "#8a8a8a");

  const rowY = [64, 81, 98, 114.5, 131];
  const rowColor = ["#ee5a32", "#3f88de", "#e2be2e", "#62c832", "#444"];
  const rowVals = [[[p.legend[0], "#ee5a32"]], [[p.legend[1], "#3f88de"], [p.legend[2], "#7cc46c"]],
    [[p.legend[3], "#e2be2e"]], [[p.legend[4], "#62c832"]], []];
  legendLabels.forEach((lab, k) => {
    const t = g.append("text").attr("x", tx).attr("y", rowY[k] + t0).attr("font-size", 10);
    t.append("tspan").attr("fill", rowColor[k]).text(lab);
    rowVals[k].forEach(([val, col], j) => t.append("tspan").attr("dx", j === 0 ? 7 : 4).attr("fill", col).text(val));
  });

  // crosshair tooltip
  if (p.crosshair) {
    const cx = x(p.crosshair[0]);
    g.append("line").attr("x1", cx).attr("x2", cx).attr("y1", by + 28).attr("y2", p.axisY)
      .attr("stroke", "#9a9a9a").attr("stroke-dasharray", "1,2");
    g.append("path").attr("d", `M${cx},${p.axisY + 1}l-4,4h8z`).attr("fill", "#3a3a3a");
    g.append("rect").attr("x", cx - 35).attr("y", p.axisY + 5).attr("width", 70).attr("height", 16).attr("fill", "#3a3a3a");
    g.append("text").attr("x", cx).attr("y", p.axisY + 16.5).attr("text-anchor", "middle")
      .attr("font-size", 11).attr("fill", "#fff").text(p.crosshair[1]);
  }
}

// small scroll control at the lower left corner
svg.append("circle").attr("cx", 4.5).attr("cy", 724).attr("r", 4.5).attr("fill", "#fff").attr("stroke", "#777");
svg.append("text").attr("x", 4.5).attr("y", 727).attr("text-anchor", "middle").attr("font-size", 8).attr("fill", "#555").text("\u203a");
</script>
</body>
</html>
